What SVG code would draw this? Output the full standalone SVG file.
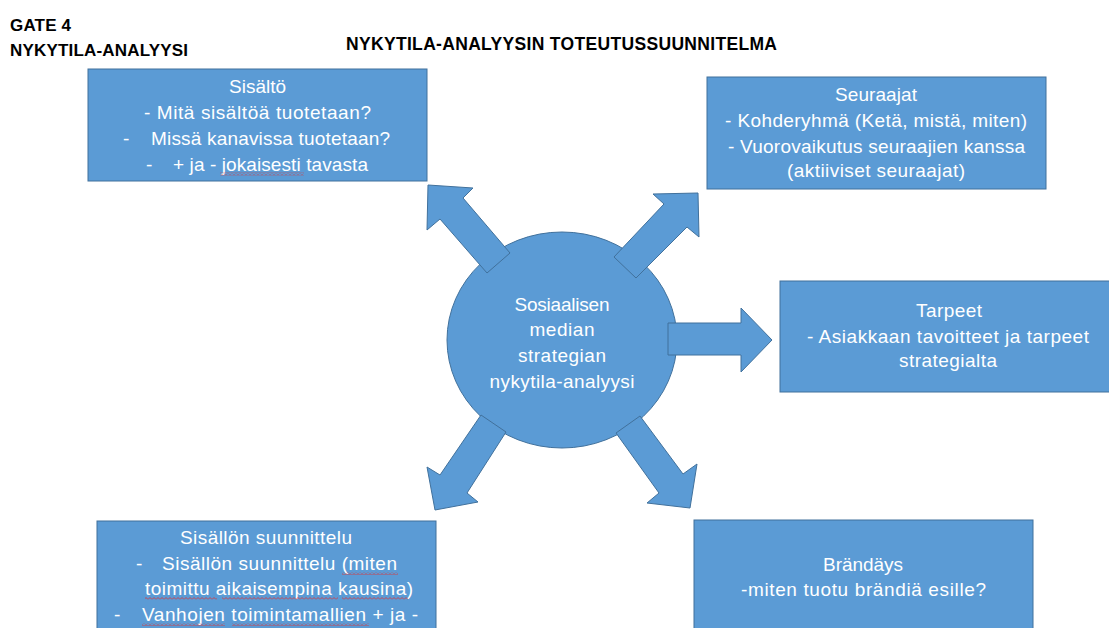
<svg xmlns="http://www.w3.org/2000/svg" width="1109" height="628" viewBox="0 0 1109 628">
<style>
.shape{fill:#5B9BD5;stroke:#41719C;stroke-width:1}
.t{font-family:"Liberation Sans",Arial,sans-serif;font-size:19px;fill:#ffffff}
.c{text-anchor:middle}
.h{font-family:"Liberation Sans",Arial,sans-serif;font-weight:bold;fill:#000000}
</style>
<defs>
<pattern id="wave" x="0" y="0" width="4" height="3" patternUnits="userSpaceOnUse">
<path d="M0,2.5 L2,0.5 L4,2.5" fill="none" stroke="#e03030" stroke-width="0.8"/>
</pattern>
</defs>
<rect width="1109" height="628" fill="#ffffff"/>

<g id="header">
<text class="h" x="10" y="31" font-size="17" textLength="61">GATE 4</text>
<text class="h" x="10" y="56" font-size="17" textLength="178">NYKYTILA-ANALYYSI</text>
<text class="h" x="346" y="50" font-size="17.5" textLength="431">NYKYTILA-ANALYYSIN TOTEUTUSSUUNNITELMA</text>
</g>

<g id="center">
<ellipse class="shape" cx="562" cy="340" rx="115" ry="108"/>
<text class="t c" x="562" y="311" textLength="95">Sosiaalisen</text>
<text class="t c" x="562" y="336" textLength="65">median</text>
<text class="t c" x="562" y="362" textLength="88">strategian</text>
<text class="t c" x="562" y="388" textLength="145">nykytila-analyysi</text>
</g>

<g id="connectors">
<polygon class="shape" points="487,273 440,219 427,230 428,185 473,188 463,198 510,253"/>
<polygon class="shape" points="614,257 664,204 653,194 698,193 699,237 687,227 636,278"/>
<polygon class="shape" points="668,323 741,323 741,308 772,340 741,372 741,355 668,355"/>
<polygon class="shape" points="481,415 440,475 427,467 435,510 478,502 467,493 506,432"/>
<polygon class="shape" points="616,433 659,493 647,503 690,508 697,464 683,474 640,416"/>
</g>

<g id="sisalto">
<rect class="shape" x="88" y="69" width="339" height="112"/>
<text class="t c" x="257.5" y="93" textLength="57">Sisältö</text>
<text class="t c" x="257.5" y="119" textLength="227">- Mitä sisältöä tuotetaan?</text>
<text class="t" x="123" y="145">-</text>
<text class="t" x="151" y="145" textLength="239">Missä kanavissa tuotetaan?</text>
<text class="t" x="146" y="171">-</text>
<text class="t" x="173" y="171" textLength="195">+ ja - jokaisesti tavasta</text>
<rect x="220" y="172.5" width="84" height="3" fill="url(#wave)"/>
</g>

<g id="seuraajat">
<rect class="shape" x="707" y="77" width="339" height="112"/>
<text class="t c" x="876" y="101" textLength="82">Seuraajat</text>
<text class="t c" x="876" y="127" textLength="302">- Kohderyhmä (Ketä, mistä, miten)</text>
<text class="t c" x="876.5" y="153" textLength="297">- Vuorovaikutus seuraajien kanssa</text>
<text class="t c" x="876" y="177" textLength="178">(aktiiviset seuraajat)</text>
</g>

<g id="tarpeet">
<rect class="shape" x="780" y="281" width="340" height="111"/>
<text class="t c" x="949" y="317" textLength="66">Tarpeet</text>
<text class="t c" x="948" y="343" textLength="282">- Asiakkaan tavoitteet ja tarpeet</text>
<text class="t c" x="948" y="367" textLength="98">strategialta</text>
</g>

<g id="suunnittelu">
<rect class="shape" x="97" y="521" width="339" height="120"/>
<text class="t" x="180" y="544" textLength="172">Sisällön suunnittelu</text>
<text class="t" x="136" y="570">-</text>
<text class="t" x="162" y="570" textLength="235">Sisällön suunnittelu (miten</text>
<rect x="342" y="572" width="56" height="3" fill="url(#wave)"/>
<text class="t" x="145" y="595" textLength="268">toimittu aikaisempina kausina)</text>
<rect x="145" y="597" width="72" height="3" fill="url(#wave)"/>
<rect x="222" y="597" width="116" height="3" fill="url(#wave)"/>
<rect x="342" y="597" width="66" height="3" fill="url(#wave)"/>
<text class="t" x="114" y="621">-</text>
<text class="t" x="142" y="621" textLength="276">Vanhojen toimintamallien + ja -</text>
<rect x="142" y="623" width="83" height="3" fill="url(#wave)"/>
<rect x="232" y="623" width="137" height="3" fill="url(#wave)"/>
</g>

<g id="brandays">
<rect class="shape" x="694" y="520" width="339" height="120"/>
<text class="t c" x="863" y="571" textLength="80">Brändäys</text>
<text class="t c" x="863.5" y="596" textLength="245">-miten tuotu brändiä esille?</text>
</g>
</svg>
